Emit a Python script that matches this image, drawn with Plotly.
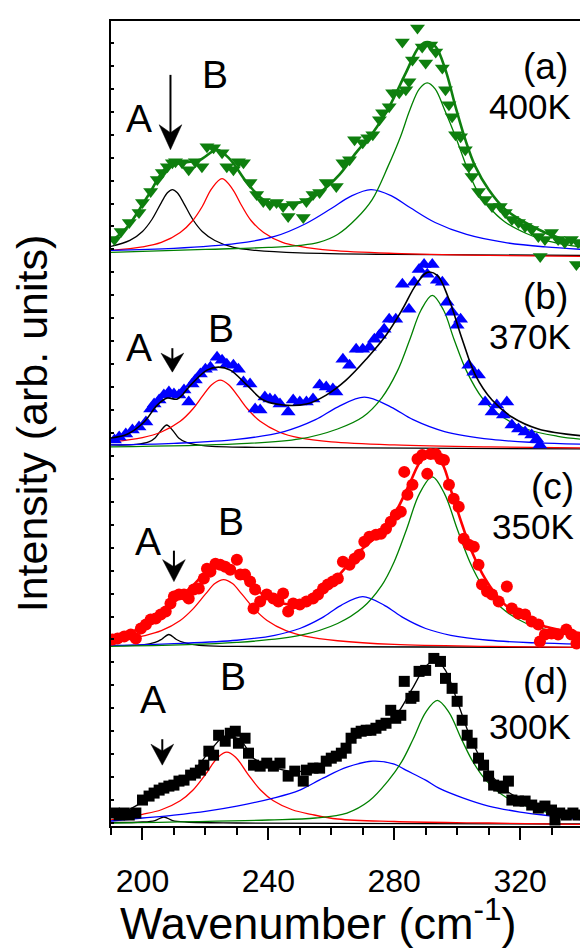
import plotly.graph_objects as go

# ---------------- axis / panel settings ----------------
x_range = [190, 340]
y_range = [0, 807]
x_major_ticks = [200, 240, 280, 320]
offsets = {"a": 573, "b": 380, "c": 180, "d": 3}
temperatures = {"a": "400K", "b": "370K", "c": "350K", "d": "300K"}

# ---------------- panel (a) 400K ----------------
a_x = [191.1,193.2,195.8,198.9,200.0,202.6,204.7,206.3,207.9,209.5,210.5,212.6,214.7,216.8,218.9,220.5,222.6,225.3,226.8,228.9,230.5,232.1,234.2,236.3,238.4,240.5,242.6,244.7,246.3,247.9,251.1,252.1,254.2,256.3,258.4,261.6,263.7,265.8,267.4,270.0,271.6,273.2,275.3,276.3,278.4,279.5,281.6,282.6,283.7,284.7,285.8,287.4,288.9,290.0,291.6,293.2,295.3,296.3,297.4,298.4,299.5,301.1,302.6,303.7,304.7,306.8,308.9,311.1,313.7,315.3,317.4,319.5,321.6,323.7,325.8,326.4,327.9,330.0,332.1,334.2,336.3,337.9,338.4]
a_y = [15,23,32,42,52,63,75,82,88,92,93,92,85,93,88,108,107,102,88,85,93,92,72,60,53,50,52,48,38,50,37,53,60,62,72,68,92,95,115,112,117,120,135,142,148,162,162,213,165,173,195,227,208,192,210,203,187,165,150,138,120,118,105,88,78,63,55,48,48,42,35,32,28,25,18,-2,15,22,15,12,15,-10,12]
a_fit_x = [190,195.3,201.6,207.9,213.2,218.4,223.7,227.9,233.2,238.4,243.7,250,256.3,262.6,267.9,273.2,278.4,283.7,287.9,290.5,293.2,296.3,299.5,302.6,305.8,310,315.3,321.6,327.9,334.2,340]
a_fit_y = [13,28,58,88,92,95,105,95,72,55,50,52,62,80,102,122,148,182,208,213,208,185,148,115,88,65,45,32,22,15,12]
a_pA_x = [190,196,200,203,206,208,209.5,211,213,216,219,223,229,236,250,280,340]
a_pA_y = [8,14,23,35,52,62,65,62,52,35,23,14,7,4,1.5,0,-1]
a_pB_x = [190,200,206,212,216,219,222,225.3,228.5,231.5,234.5,238.5,244.5,250,260,280,310,340]
a_pB_y = [4,7.5,12,22,34,48,66,76,66,49,34,22,12,8,4,1,-1,-2]
a_p3_x = [190,210,230,242,252,260,266,272.6,279,285,293,303,315,328,340]
a_p3_y = [4,6,11,18,31,46,58,65,59,47,32,20,12,7.5,5]
a_p4_x = [190,220,240,250,256,262,268,273,278,282,285,288,290.5,293,296,299.5,303,306,310,315,322,328,334,340]
a_p4_y = [2,5,7,9,12,20,36,55,88,118,145,166,172,166,145,118,88,66,48,33,21,14,10,7]

# ---------------- panel (b) 370K ----------------
b_x = [191.1,192.6,194.7,196.8,198.9,201.1,202.6,203.7,205.3,206.8,208.4,210.0,211.6,213.2,214.7,215.8,216.8,218.4,220.0,221.6,223.7,225.3,226.8,228.9,230.5,232.1,234.2,235.8,237.4,238.9,240.5,242.1,243.7,246.3,247.9,250.0,252.1,254.2,256.3,258.4,260.5,261.5,263.7,265.8,267.9,270.0,272.1,273.7,275.3,276.8,278.4,280.5,282.6,284.7,286.3,287.9,289.5,290.5,292.1,293.7,295.3,296.8,298.4,300.0,301.1,303.7,305.3,306.8,308.9,311.1,312.6,314.7,315.8,317.4,319.5,321.6,323.7,325.3,326.3]
b_y = [7,10,13,17,20,25,38,43,47,52,55,53,52,57,45,63,67,73,78,80,90,87,83,82,78,65,63,38,37,50,48,47,43,35,47,45,45,48,62,60,58,55,88,82,98,98,100,108,112,118,128,128,163,138,165,178,183,173,183,167,165,145,135,122,128,82,75,72,45,35,42,32,45,22,18,15,12,8,2]
b_fit_x = [190,195.3,200.5,204.7,207.9,211.1,215.3,220.5,224.2,227.9,233.2,238.4,244.7,252.1,258.4,264.7,271.1,277.4,282.6,286.8,290.5,293.7,297.4,301.6,305.8,311.1,317.4,325.8,340]
b_fit_y = [9,13,25,42,49,48,62,77,80,77,62,47,42,43,52,67,88,112,138,162,175,172,148,108,72,47,30,18,11]
b_pA_x = [190,198,202,204,206,207.7,209.5,211.5,214,220,240,340]
b_pA_y = [2,2.5,5,9,17,22,17,9,4.5,1,-0.5,-2]
b_pB_x = [190,200,206,212,216,219,222,224.7,227.4,230.4,233.4,237.4,243.4,250,260,280,310,340]
b_pB_y = [5,9.4,15,25.7,38,50.6,62.4,67,62.4,50.6,38,25.7,15,9,5,2,0,-1]
b_p3_x = [190,210,230,245,255,262,270.5,279,286,296,311,325,340]
b_p3_y = [2,3.6,7.5,15.4,27.3,40,50,40,27.3,15.4,7.5,4.4,2.8]
b_p4_x = [190,230,250,262,270,276,281,285,288.5,292.1,295.7,299,303,308,314,322,332,340]
b_p4_y = [0,3,8,18,30,49,76,108,137,152,137,108,76,49,31,18,10.7,7.6]

# ---------------- panel (c) 350K ----------------
c_x = [190.5,192.1,194.2,196.3,197.9,199.5,201.1,202.6,204.2,205.8,207.4,208.9,210.0,211.6,213.2,214.7,216.3,217.9,219.5,220.5,221.6,223.2,224.7,226.3,227.9,230.0,231.1,232.6,234.2,235.3,235.8,237.4,239.5,241.6,243.2,244.7,246.3,247.9,250.0,252.1,254.2,255.8,257.4,258.9,260.5,262.1,263.7,265.8,267.4,268.9,270.5,272.1,274.2,275.8,277.4,278.9,280.5,282.1,283.2,284.2,285.8,287.4,288.9,290.5,291.6,293.2,294.7,295.8,297.4,298.9,300.5,302.1,303.7,305.3,306.8,307.9,309.5,311.1,313.2,315.8,317.4,319.5,321.6,323.7,325.8,326.3,327.9,330.0,332.1,334.7,336.3,337.9,338.9]
c_y = [7,8,10,12,8,18,22,27,28,32,35,43,50,52,52,48,57,58,68,78,75,83,82,80,77,87,72,72,65,38,57,45,52,48,45,53,35,43,42,45,48,52,58,62,65,68,85,82,88,92,105,110,112,113,118,125,132,135,175,152,162,188,192,173,193,193,188,187,162,148,140,108,102,100,82,62,55,52,45,60,38,33,32,25,22,5,12,13,12,17,12,3,7]
c_fit_x = [190,195.3,200.5,205.8,211.1,216.3,220.5,224.7,228.9,233.2,238.4,244.7,251.1,257.4,262.6,268.9,275.3,280.5,284.7,288.9,292.1,295.3,298.4,301.6,304.7,308.9,314.2,320.5,327.9,340]
c_fit_y = [7,12,22,33,48,62,75,80,77,65,52,43,43,55,72,95,113,135,162,188,193,183,153,122,95,68,45,30,20,13]
c_pA_x = [190,200,204,206,208.4,210.8,213,218,230,340]
c_pA_y = [1,1.5,4,7,12,7,4,1,0,-1]
c_pB_x = [190,200,206,212,216,220,223,225.8,228.6,231.6,235.6,239.6,245.6,252,262,280,310,340]
c_pB_y = [4,10.3,15.8,26,37.4,52.4,63,67,63,52.4,37.4,26,15.8,10,5.7,2,0,-1]
c_p3_x = [190,210,230,242,250,257,263,270,277,283,290,298,310,325,340]
c_p3_y = [1,2.9,6.2,11.2,18,28.6,41,50,41,28.6,18,11.2,6.2,3.5,2.2]
c_p4_x = [190,230,250,262,270,276,280,284,288,292.1,296,300,304,308,314,322,334,340]
c_p4_y = [0,4,11,23,39,61,85,118,153,170,153,118,85,61,39,23,12.8,9]

# ---------------- panel (d) 300K ----------------
d_x = [191.1,192.6,194.2,195.8,197.9,200.0,202.1,203.7,205.3,206.8,208.4,210.0,211.6,213.2,215.3,216.8,218.4,219.5,221.1,222.6,224.2,226.3,227.9,229.5,230.5,232.6,233.7,235.3,237.4,239.5,241.6,243.7,246.3,248.4,251.1,252.1,254.2,256.3,258.4,260.0,261.6,263.2,264.7,266.3,267.9,269.5,271.1,272.6,274.2,275.8,277.4,278.9,280.5,282.1,283.2,285.3,286.3,287.9,290.0,292.6,294.7,296.3,298.4,300.0,301.6,303.2,304.7,306.8,308.4,310.0,311.6,313.2,314.7,316.3,317.4,319.5,321.6,323.7,325.8,327.9,330.0,331.1,332.6,334.7,336.8,338.4]
d_y = [10,8,10,8,10,23,27,30,33,35,37,38,42,43,48,50,53,58,72,68,88,82,90,92,80,85,70,58,57,60,57,60,47,52,42,53,55,55,62,65,67,70,75,85,90,92,93,93,95,98,100,113,105,108,142,125,127,152,153,165,162,145,135,122,103,88,80,65,58,47,38,37,35,42,23,22,22,18,15,17,13,3,10,8,10,8]
d_fit_x = [190,195.3,200.5,205.8,211.1,216.3,221.6,226.3,231.1,235.3,240.5,246.8,253.2,260.5,267.9,275.3,280.5,285.8,290,293.2,296.3,300.5,304.7,310,315.3,321.6,330,340]
d_fit_y = [8,13,22,32,38,52,73,87,83,65,57,52,53,65,85,97,108,135,157,163,153,118,82,52,33,22,13,9]
d_pA_x = [190,200,204,206.8,209.6,214,230,340]
d_pA_y = [0.5,1,2.5,6,2.5,1,0,-1]
d_pB_x = [190,200,206,212,216,220,224,226.8,229.6,233.6,237.6,241.6,247.6,253.6,262,280,310,340]
d_pB_y = [3,8.7,13.3,22.3,32.8,48.6,66,71,66,48.6,32.8,22.3,13.3,8.7,4,1.5,0,-1.5]
d_p3_x = [190,200,210,220.5,230,241.6,250,257.4,265,273.2,280,283.7,290,294.2,302,310,320,330,340]
d_p3_y = [2,5,8,12,17,25,33,45,56,62,59,53,43,35,25,17,11,7,3]
d_p4_x = [190,240,255,265,272,278,282.4,286,290,293.7,297.4,301.4,305,309.4,315.4,322.4,332.4,340]
d_p4_y = [0,3,5,10,22,42,61.5,84,111,123,111,84,61.5,42,26,16.5,8,5.5]

# label positions (data coords, relative to panel baseline)
label_A = {"a": (199.0, 136), "b": (198.8, 100), "c": (201.6, 105), "d": (203.4, 124)}
label_B = {"a": (223.2, 180), "b": (225.0, 119), "c": (228.0, 125), "d": (228.8, 147)}
# arrow: x, tail height, tip height, head length (px)
arrow_A = {"a": (208.9, 180, 105, 25), "b": (209.5, 99, 75, 19), "c": (210.0, 96, 65, 22), "d": (206.3, 84, 58, 21)}
label_panel = {"a": (328.2, 188), "b": (328.2, 151), "c": (330.3, 160), "d": (328.2, 142)}
label_temp = {"a": (323.2, 148), "b": (323.2, 111), "c": (324.1, 120), "d": (323.2, 97)}
ARROW_HALF_WIDTH = 3.6   # in wavenumber units

GREEN = "#0e7f0e"
comp_colors = ["black", "#ff0000", "#0000ff", "#008000"]
FONT = "Liberation Sans, Arial"

panels = [
    ("a", a_x, a_y, a_fit_x, a_fit_y,
     [(a_pA_x, a_pA_y), (a_pB_x, a_pB_y), (a_p3_x, a_p3_y), (a_p4_x, a_p4_y)],
     dict(symbol="triangle-down", color=GREEN, size=13), dict(color=GREEN, width=2.6)),
    ("b", b_x, b_y, b_fit_x, b_fit_y,
     [(b_pA_x, b_pA_y), (b_pB_x, b_pB_y), (b_p3_x, b_p3_y), (b_p4_x, b_p4_y)],
     dict(symbol="triangle-up", color="#0000ff", size=13), dict(color="black", width=1.6)),
    ("c", c_x, c_y, c_fit_x, c_fit_y,
     [(c_pA_x, c_pA_y), (c_pB_x, c_pB_y), (c_p3_x, c_p3_y), (c_p4_x, c_p4_y)],
     dict(symbol="circle", color="#ff0000", size=12), dict(color="#ff0000", width=2.6)),
    ("d", d_x, d_y, d_fit_x, d_fit_y,
     [(d_pA_x, d_pA_y), (d_pB_x, d_pB_y), (d_p3_x, d_p3_y), (d_p4_x, d_p4_y)],
     dict(symbol="square", color="black", size=11), dict(color="black", width=1.3)),
]

fig = go.Figure()
annotations = []
shapes = []
for key, px_, py_, fx, fy, comps, mstyle, fstyle in panels:
    off = offsets[key]
    for (cx, cy), col in zip(comps, comp_colors):
        fig.add_trace(go.Scatter(x=cx, y=[v + off for v in cy], mode="lines",
                                 line=dict(color=col, width=1.3, shape="spline", smoothing=1.0),
                                 hoverinfo="skip", showlegend=False))
    fig.add_trace(go.Scatter(x=px_, y=[v + off for v in py_], mode="markers",
                             marker=dict(symbol=mstyle["symbol"], color=mstyle["color"],
                                         size=mstyle["size"], line=dict(width=0)),
                             showlegend=False))
    fig.add_trace(go.Scatter(x=fx, y=[v + off for v in fy], mode="lines",
                             line=dict(color=fstyle["color"], width=fstyle["width"],
                                       shape="spline", smoothing=1.0),
                             showlegend=False))
    ax_, ay_ = label_A[key]
    annotations.append(dict(x=ax_, y=ay_ + off, text="A", showarrow=False,
                            xref="x", yref="y", xanchor="center", yanchor="middle",
                            font=dict(family=FONT, size=39, color="black")))
    bx_, by_ = label_B[key]
    annotations.append(dict(x=bx_, y=by_ + off, text="B", showarrow=False,
                            xref="x", yref="y", xanchor="center", yanchor="middle",
                            font=dict(family=FONT, size=39, color="black")))
    # arrow pointing at mode A: shaft + notched head
    rx, ry0, ry1, hl = arrow_A[key]
    tail, tip = ry0 + off, ry1 + off
    shapes.append(dict(type="line", xref="x", yref="y", x0=rx, x1=rx, y0=tail, y1=tip + hl * 0.6,
                       line=dict(color="black", width=2)))
    w = ARROW_HALF_WIDTH
    shapes.append(dict(type="path", xref="x", yref="y",
                       path=f"M {rx},{tip} L {rx - w},{tip + hl} L {rx},{tip + hl * 0.68} L {rx + w},{tip + hl} Z",
                       fillcolor="black", line=dict(color="black", width=0.5)))
    lx, ly = label_panel[key]
    annotations.append(dict(x=lx, y=ly + off, text="(" + key + ")", showarrow=False,
                            xref="x", yref="y", xanchor="center", yanchor="middle",
                            font=dict(family=FONT, size=37, color="black")))
    tx, ty = label_temp[key]
    annotations.append(dict(x=tx, y=ty + off, text=temperatures[key], showarrow=False,
                            xref="x", yref="y", xanchor="center", yanchor="middle",
                            font=dict(family=FONT, size=35, color="black")))

annotations.append(dict(x=0.439, y=-0.1165, xref="paper", yref="paper",
                        text="Wavenumber (cm<sup>-1</sup>)", showarrow=False,
                        xanchor="center", yanchor="middle",
                        font=dict(family=FONT, size=45, color="black")))

fig.update_layout(
    width=588, height=951,
    margin=dict(l=103, r=11, t=11, b=133),
    paper_bgcolor="white", plot_bgcolor="white",
    showlegend=False,
    annotations=annotations,
    shapes=shapes,
    xaxis=dict(range=x_range, tickvals=x_major_ticks, ticktext=[str(v) for v in x_major_ticks],
               ticks="outside", ticklen=12, tickwidth=2, tickcolor="black",
               minor=dict(dtick=10, tick0=190, ticks="outside", ticklen=7, tickwidth=2, tickcolor="black"),
               showline=True, linewidth=2, linecolor="black", mirror=True,
               showgrid=False, zeroline=False,
               tickfont=dict(family=FONT, size=32, color="black"),
               ticklabelstandoff=14),
    yaxis=dict(range=y_range, showticklabels=False, ticks="inside", ticklen=3, tickwidth=2,
               tickcolor="black", tick0=3, dtick=23,
               showline=True, linewidth=2, linecolor="black", mirror="ticks",
               showgrid=False, zeroline=False,
               title=dict(text="Intensity (arb. units)",
                          font=dict(family=FONT, size=43, color="black"), standoff=48)),
)

fig.write_html("out.html")
